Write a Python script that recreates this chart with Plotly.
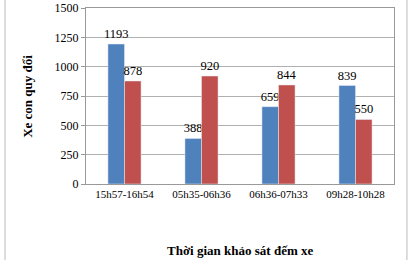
import plotly.graph_objects as go

categories = ["15h57-16h54", "05h35-06h36", "06h36-07h33", "09h28-10h28"]
series_a = [1193, 388, 659, 839]
series_b = [878, 920, 844, 550]
y_ticks = [0, 250, 500, 750, 1000, 1250, 1500]
x_title = "Thời gian khảo sát đếm xe"
y_title = "Xe con quy đổi"

font = "Liberation Serif, Times New Roman, serif"

fig = go.Figure()
fig.add_trace(go.Bar(x=categories, y=series_a, marker_color="#4F81BD",
                     text=series_a, textposition="outside", cliponaxis=False,
                     constraintext="none",
                     textfont=dict(family=font, size=12.5, color="black")))
fig.add_trace(go.Bar(x=categories, y=series_b, marker_color="#C0504D",
                     text=series_b, textposition="outside", cliponaxis=False,
                     constraintext="none",
                     textfont=dict(family=font, size=12.5, color="black")))

fig.update_layout(
    width=416, height=260,
    margin=dict(l=86, r=22, t=8, b=76, autoexpand=False),
    paper_bgcolor="white", plot_bgcolor="white",
    showlegend=False,
    barmode="group", bargap=0.57, bargroupgap=0,
    font=dict(family=font, size=11, color="black"),
    xaxis=dict(
        showline=True, linecolor="#999999", mirror=True,
        ticks="", tickfont=dict(family=font, size=11), automargin=False,
    ),
    yaxis=dict(
        range=[0, 1500], tickvals=y_ticks, automargin=False,
        showgrid=True, gridcolor="#B0B0B0", gridwidth=1,
        showline=True, linecolor="#999999", mirror=True,
        ticks="outside", ticklen=4, tickcolor="#999999",
        tickfont=dict(family=font, size=12),
        zeroline=False,
    ),
    annotations=[
        dict(text="<b>" + x_title + "</b>", xref="paper", yref="paper", x=0.5, y=-0.375,
             showarrow=False, font=dict(family=font, size=13), xanchor="center", yanchor="middle"),
        dict(text="<b>" + y_title + "</b>", xref="paper", yref="paper", x=-0.192, y=0.5,
             showarrow=False, textangle=-90, font=dict(family=font, size=13),
             xanchor="center", yanchor="middle"),
    ],
    shapes=[
        dict(type="line", xref="paper", yref="paper", x0=-0.263, x1=-0.263, y0=-0.5, y1=1.1,
             line=dict(color="#BBBBBB", width=1)),
        dict(type="line", xref="paper", yref="paper", x0=1.042, x1=1.042, y0=-0.5, y1=1.1,
             line=dict(color="#BBBBBB", width=1)),
    ],
)

fig.write_html("out.html")
